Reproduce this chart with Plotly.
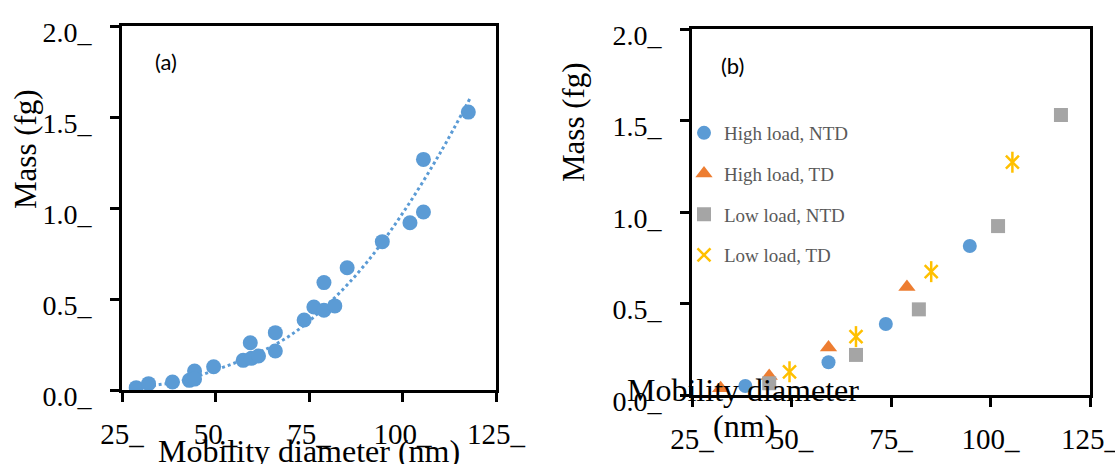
import plotly.graph_objects as go

# ---------------- data ----------------
# Panel (a): all measurements
a_x = [28.8, 32.1, 38.5, 43.0, 44.4, 44.4, 49.5, 57.4, 59.3, 59.6, 61.5, 66.0, 66.0,
       73.7, 76.3, 79.0, 79.0, 81.9, 85.2, 94.6, 102.0, 105.6, 105.6, 117.6]
a_y = [0.013, 0.035, 0.044, 0.053, 0.104, 0.060, 0.128, 0.163, 0.260, 0.174, 0.187, 0.315, 0.214,
       0.385, 0.456, 0.590, 0.438, 0.462, 0.672, 0.815, 0.919, 1.267, 0.978, 1.527]
# Panel (a): fitted curve
fit_x = [30, 35, 40, 50, 60, 70, 80, 90, 100, 110, 118]
fit_y = [0.016, 0.030, 0.045, 0.110, 0.190, 0.300, 0.470, 0.690, 0.970, 1.300, 1.600]

# Panel (b): series
hn_x = [38.4, 59.3, 73.7, 94.8]
hn_y = [0.049, 0.179, 0.388, 0.814]
ht_x = [32.2, 44.4, 59.3, 79.0]
ht_y = [0.037, 0.104, 0.260, 0.590]
ln_x = [44.4, 66.2, 82.0, 101.9, 117.7]
ln_y = [0.064, 0.219, 0.468, 0.923, 1.530]
lt_x = [49.5, 66.2, 85.1, 105.5]
lt_y = [0.127, 0.319, 0.674, 1.272]

series_names = ["High load, NTD", "High load, TD", "Low load, NTD", "Low load, TD"]

x_tickvals = [25, 50, 75, 100, 125]
x_ticktext = ["25_", "50_", "75_", "100_", "125_"]
y_tickvals = [0.0, 0.5, 1.0, 1.5, 2.0]
y_ticktext = ["0.0_", "0.5_", "1.0_", "1.5_", "2.0_"]

BLUE = "#5B9BD5"
ORANGE = "#ED7D31"
GRAY = "#A5A5A5"
GOLD = "#FFC000"
SERIF = "Liberation Serif, Times New Roman, serif"

W, H = 1115, 464

fig = go.Figure()

# ---- panel (a)
fig.add_trace(go.Scatter(x=fit_x, y=fit_y, mode="lines", line=dict(color=BLUE, width=3, dash="dot", shape="spline"),
                         xaxis="x", yaxis="y", showlegend=False, hoverinfo="skip"))
fig.add_trace(go.Scatter(x=a_x, y=a_y, mode="markers", marker=dict(color=BLUE, size=15, symbol="circle"),
                         xaxis="x", yaxis="y", showlegend=False))

# ---- panel (b)
fig.add_trace(go.Scatter(x=hn_x, y=hn_y, mode="markers", name=series_names[0], legendgroup="g1",
                         marker=dict(color=BLUE, size=14, symbol="circle"), xaxis="x2", yaxis="y2"))
fig.add_trace(go.Scatter(x=ht_x, y=ht_y, mode="markers", name=series_names[1], legendgroup="g2",
                         marker=dict(color=ORANGE, size=15, symbol="triangle-up"), xaxis="x2", yaxis="y2"))
fig.add_trace(go.Scatter(x=ln_x, y=ln_y, mode="markers", name=series_names[2], legendgroup="g3",
                         marker=dict(color=GRAY, size=14, symbol="square"), xaxis="x2", yaxis="y2"))
fig.add_trace(go.Scatter(x=lt_x, y=lt_y, mode="markers", name=series_names[3], legendgroup="g4",
                         marker=dict(color=GOLD, size=13, symbol="x-thin-open", line=dict(color=GOLD, width=2.5)),
                         xaxis="x2", yaxis="y2"))
fig.add_trace(go.Scatter(x=lt_x, y=lt_y, mode="markers", name=series_names[3], legendgroup="g4", showlegend=False,
                         marker=dict(color=GOLD, size=15, symbol="line-ns-open", line=dict(color=GOLD, width=2.5)),
                         xaxis="x2", yaxis="y2"))

def px_x(v):
    return v / W

def px_y(v):
    return 1 - v / H

axis_common = dict(showline=True, mirror=True, linewidth=3, linecolor="black", ticks="outside",
                   ticklen=9, tickwidth=3, tickcolor="black", showgrid=False, zeroline=False,
                   automargin=False, ticklabeloverflow="allow")

xa = dict(axis_common, range=[25, 125], tickvals=x_tickvals, ticktext=x_ticktext,
          tickfont=dict(family=SERIF, size=29, color="black"), ticklabelstandoff=7)
ya = dict(axis_common, range=[0, 2], tickvals=y_tickvals, ticktext=y_ticktext,
          tickfont=dict(family=SERIF, size=28, color="black"), ticklabelstandoff=13, ticklabelshift=6)

fig.update_layout(
    width=W, height=H, margin=dict(l=0, r=0, t=0, b=0, autoexpand=False),
    paper_bgcolor="white", plot_bgcolor="white",
    xaxis=dict(xa, domain=[px_x(122), px_x(496)], anchor="y"),
    yaxis=dict(ya, domain=[px_y(390), px_y(26)], anchor="x"),
    xaxis2=dict(xa, domain=[px_x(692), px_x(1090)], anchor="y2"),
    yaxis2=dict(ya, domain=[px_y(395), px_y(29)], anchor="x2"),
    showlegend=True,
    legend=dict(x=px_x(684), y=px_y(114), xanchor="left", yanchor="top",
                bgcolor="rgba(0,0,0,0)", borderwidth=0, traceorder="grouped", tracegroupgap=13,
                font=dict(family=SERIF, size=19, color="#595959")),
)

ann = []
ann.append(dict(text="Mobility diameter (nm)", xref="paper", yref="paper", x=px_x(309), y=px_y(451),
                xanchor="center", yanchor="middle", showarrow=False, font=dict(family=SERIF, size=32, color="black")))
ann.append(dict(text="Mass (fg)", xref="paper", yref="paper", x=px_x(26), y=px_y(149), textangle=-90,
                xanchor="center", yanchor="middle", showarrow=False, font=dict(family=SERIF, size=31, color="black")))
ann.append(dict(text="Mass (fg)", xref="paper", yref="paper", x=px_x(573), y=px_y(122), textangle=-90,
                xanchor="center", yanchor="middle", showarrow=False, font=dict(family=SERIF, size=31, color="black")))
ann.append(dict(text="Mobility diameter", xref="paper", yref="paper", x=px_x(743), y=px_y(390),
                xanchor="center", yanchor="middle", showarrow=False, font=dict(family=SERIF, size=32, color="black")))
ann.append(dict(text="(nm)", xref="paper", yref="paper", x=px_x(744), y=px_y(426),
                xanchor="center", yanchor="middle", showarrow=False, font=dict(family=SERIF, size=32, color="black")))
ann.append(dict(text="(a)", xref="paper", yref="paper", x=px_x(166), y=px_y(61),
                xanchor="center", yanchor="middle", showarrow=False, font=dict(family="Lato, sans-serif", size=22, color="black")))
ann.append(dict(text="(b)", xref="paper", yref="paper", x=px_x(732), y=px_y(65),
                xanchor="center", yanchor="middle", showarrow=False, font=dict(family="Lato, sans-serif", size=22, color="black")))
fig.update_layout(annotations=ann)

fig.write_html("out.html", config={"displayModeBar": False},
               post_script="document.body.style.margin='0px';")
